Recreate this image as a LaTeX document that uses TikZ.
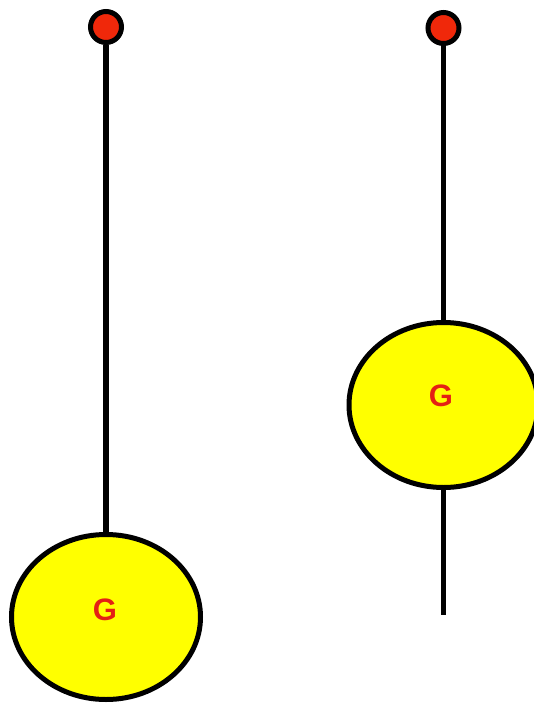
\documentclass[tikz,border=0pt]{standalone}
\usepackage{fontspec}
\newfontfamily\labelfont{Liberation Sans}
\usetikzlibrary{shapes.geometric,backgrounds}
\definecolor{bobyellow}{RGB}{255,255,0}
\definecolor{pivotred}{RGB}{240,40,10}
\definecolor{labelred}{RGB}{228,32,20}
\tikzset{
  pivot/.style={circle, draw=black, line width=5pt, fill=pivotred, minimum size=31pt, inner sep=0pt},
  bob/.style={ellipse, draw=black, line width=5pt, fill=bobyellow, minimum width=189pt, minimum height=165pt, inner sep=0pt},
  rod/.style={draw=black, line width=5.5pt},
  glabel/.style={text=labelred, font=\labelfont\bfseries\fontsize{31}{31}\selectfont, inner sep=0pt}
}
\begin{document}
\begin{tikzpicture}[x=1pt,y=-1pt]
  \useasboundingbox (0,0) rectangle (533,704);
  % left pendulum: bob hanging low
  \node[pivot] (pivL) at (106,27) {};
  \node[bob] (bobL) at (106,617) {};
  \node[glabel] (gL) at (105,610) {G};
  % right pendulum: bob raised on the rod
  \node[pivot] (pivR) at (443.5,28) {};
  \node[bob] (bobR) at (443.5,405) {};
  \node[glabel] (gR) at (441,396) {G};
  \coordinate (endR) at (443.5,615);
  \begin{scope}[on background layer]
    \draw[rod] (pivL.south) -- (bobL.north);
    \draw[rod] (pivR.south) -- (bobR.north);
    \draw[rod] (bobR.south) -- (endR);
  \end{scope}
\end{tikzpicture}
\end{document}
